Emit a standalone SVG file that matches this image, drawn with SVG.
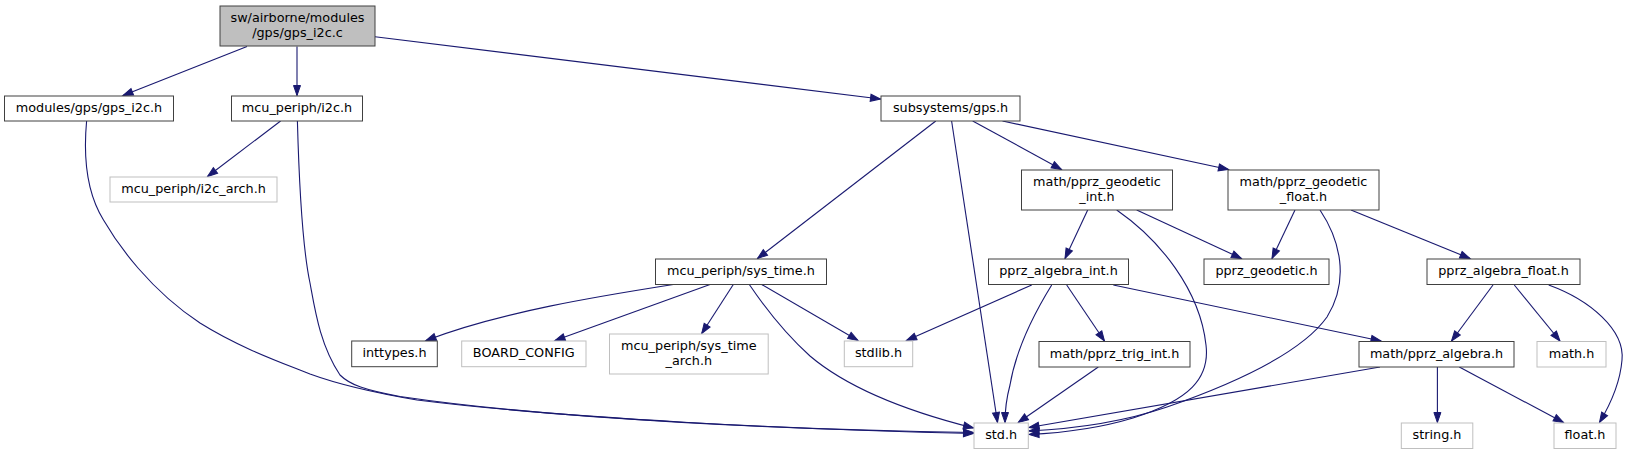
<svg xmlns="http://www.w3.org/2000/svg" width="1629" height="455" viewBox="0 0 1629 455">
<style>
  .n rect { fill: #ffffff; stroke: #404040; stroke-width: 1; }
  .g rect { fill: #ffffff; stroke: #bfbfbf; stroke-width: 1; }
  .root rect { fill: #bfbfbf; stroke: #404040; stroke-width: 1; }
  text { font-family: "DejaVu Sans", "Liberation Sans", sans-serif; font-size: 12.8px; fill: #000000; text-anchor: middle; }
  #edges path { fill: none; stroke: #191970; stroke-width: 1.1; marker-end: url(#arr); }
</style>
<defs>
  <marker id="arr" markerUnits="userSpaceOnUse" markerWidth="13" markerHeight="10" viewBox="-1.5 -1.5 13 10" refX="10" refY="3.5" orient="auto">
    <path d="M0,0 L10,3.5 L0,7 z" fill="#191970" stroke="#191970" stroke-width="1" stroke-linejoin="miter"/>
  </marker>
</defs>
<rect x="0" y="0" width="1629" height="455" fill="#ffffff"/>
<g id="edges">
  <path d="M247,46.5 L123,95.5"/>
  <path d="M297,46.5 L297,95.5"/>
  <path d="M375,36.7 L880.5,99"/>
  <path d="M86.6,121 C83,160 88,195 103.5,220 C118,245 150,290 200,323 C240,348 280,362 310,374 C340,385 370,392 417,400 C560,418 800,430 973.5,433.5"/>
  <path d="M297.4,121 C299,180 303,250 310,283 C315,310 320,345 340,375 C350,385 365,390 400,396.5 C560,420 800,430 973.5,432.5"/>
  <path d="M280.6,121 L207.5,176.5"/>
  <path d="M935.8,121 L757.5,258.5"/>
  <path d="M951.6,121 L997.5,422.5"/>
  <path d="M972.7,121 L1061.5,169.5"/>
  <path d="M1002.5,121 L1228.5,169.5"/>
  <path d="M1087.7,210 L1065,258.5"/>
  <path d="M1136.7,210 L1241.5,258.5"/>
  <path d="M1116.7,210 C1160,240 1200,290 1206,345 C1210,378 1190,400 1133,418 C1100,428 1060,433 1029,434.5"/>
  <path d="M1295,210 L1272,258.5"/>
  <path d="M1320,210 C1340,240 1350,280 1327,317 C1300,355 1230,385 1167,407 C1120,423 1070,429 1029,431"/>
  <path d="M1351,210 L1470,258.5"/>
  <path d="M673.3,284.5 C600,296 500,312 426,340.5"/>
  <path d="M710,284.5 L555,340.5"/>
  <path d="M733.3,284.5 L701.7,333.5"/>
  <path d="M749.3,284.5 C770,315 790,338 810,356 C850,390 910,412 973.5,428"/>
  <path d="M761.7,284.5 L858,340.5"/>
  <path d="M1031.7,285 L906.5,340.5"/>
  <path d="M1051.7,285 C1035,312 1016,350 1010,385 C1006,400 1005,410 1005,422.5"/>
  <path d="M1066.7,285 L1104.5,341"/>
  <path d="M1113.3,285 L1381,341"/>
  <path d="M1098.3,367 L1018.3,422.5"/>
  <path d="M1380,367 L1029,427.5"/>
  <path d="M1493,285 L1451.5,341"/>
  <path d="M1514.3,285 L1560,341"/>
  <path d="M1548.7,285 C1590,300 1625,330 1622,360 C1620,385 1610,405 1599.5,422.5"/>
  <path d="M1437.4,367 L1437.4,422.5"/>
  <path d="M1459.3,367 L1563.5,422.5"/>
</g>
<g id="node-root" class="root">
  <rect x="220" y="6" width="155" height="40"/>
  <text x="297.5" y="22">sw/airborne/modules</text>
  <text x="297.5" y="37">/gps/gps_i2c.c</text>
</g>
<g id="node-gps_i2c_h" class="n">
  <rect x="4.5" y="96" width="169" height="25"/>
  <text x="89" y="112">modules/gps/gps_i2c.h</text>
</g>
<g id="node-i2c_h" class="n">
  <rect x="231.5" y="96" width="131" height="25"/>
  <text x="297" y="112">mcu_periph/i2c.h</text>
</g>
<g id="node-gps_h" class="n">
  <rect x="881" y="96" width="139" height="25"/>
  <text x="950.5" y="112">subsystems/gps.h</text>
</g>
<g id="node-i2c_arch_h" class="g">
  <rect x="110" y="177" width="167" height="25"/>
  <text x="193.5" y="193">mcu_periph/i2c_arch.h</text>
</g>
<g id="node-geodetic_int" class="n">
  <rect x="1021.5" y="170" width="151" height="40"/>
  <text x="1097" y="186">math/pprz_geodetic</text>
  <text x="1097" y="200.5">_int.h</text>
</g>
<g id="node-geodetic_float" class="n">
  <rect x="1228" y="170" width="151" height="40"/>
  <text x="1303.5" y="186">math/pprz_geodetic</text>
  <text x="1303.5" y="200.5">_float.h</text>
</g>
<g id="node-sys_time" class="n">
  <rect x="655.5" y="259" width="171" height="25.5"/>
  <text x="741" y="275">mcu_periph/sys_time.h</text>
</g>
<g id="node-algebra_int" class="n">
  <rect x="988.5" y="259" width="140" height="25.5"/>
  <text x="1058.5" y="275">pprz_algebra_int.h</text>
</g>
<g id="node-pprz_geodetic" class="n">
  <rect x="1204" y="259" width="125" height="25.5"/>
  <text x="1266.5" y="275">pprz_geodetic.h</text>
</g>
<g id="node-algebra_float" class="n">
  <rect x="1427" y="259" width="153" height="25.5"/>
  <text x="1503.5" y="275">pprz_algebra_float.h</text>
</g>
<g id="node-inttypes" class="n">
  <rect x="351.7" y="341" width="85.6" height="25.7"/>
  <text x="394.5" y="357">inttypes.h</text>
</g>
<g id="node-board_config" class="g">
  <rect x="461.7" y="341" width="124.3" height="25.7"/>
  <text x="523.8" y="357">BOARD_CONFIG</text>
</g>
<g id="node-sys_time_arch" class="g">
  <rect x="609.5" y="334" width="158.7" height="40"/>
  <text x="688.8" y="350">mcu_periph/sys_time</text>
  <text x="688.8" y="364.5">_arch.h</text>
</g>
<g id="node-stdlib" class="g">
  <rect x="844.3" y="341" width="68.4" height="25.7"/>
  <text x="878.5" y="357">stdlib.h</text>
</g>
<g id="node-trig_int" class="n">
  <rect x="1039" y="341.5" width="151" height="25.5"/>
  <text x="1114.5" y="357.5">math/pprz_trig_int.h</text>
</g>
<g id="node-pprz_algebra" class="n">
  <rect x="1359" y="341.5" width="155" height="25.5"/>
  <text x="1436.5" y="357.5">math/pprz_algebra.h</text>
</g>
<g id="node-math_h" class="g">
  <rect x="1537" y="341.5" width="69" height="25.5"/>
  <text x="1571.5" y="357.5">math.h</text>
</g>
<g id="node-std_h" class="g">
  <rect x="974" y="423" width="54.3" height="25.5"/>
  <text x="1001.2" y="439">std.h</text>
</g>
<g id="node-string_h" class="g">
  <rect x="1401.3" y="423" width="71.5" height="25.5"/>
  <text x="1437" y="439">string.h</text>
</g>
<g id="node-float_h" class="g">
  <rect x="1554" y="423" width="62" height="25.5"/>
  <text x="1585" y="439">float.h</text>
</g>
</svg>
